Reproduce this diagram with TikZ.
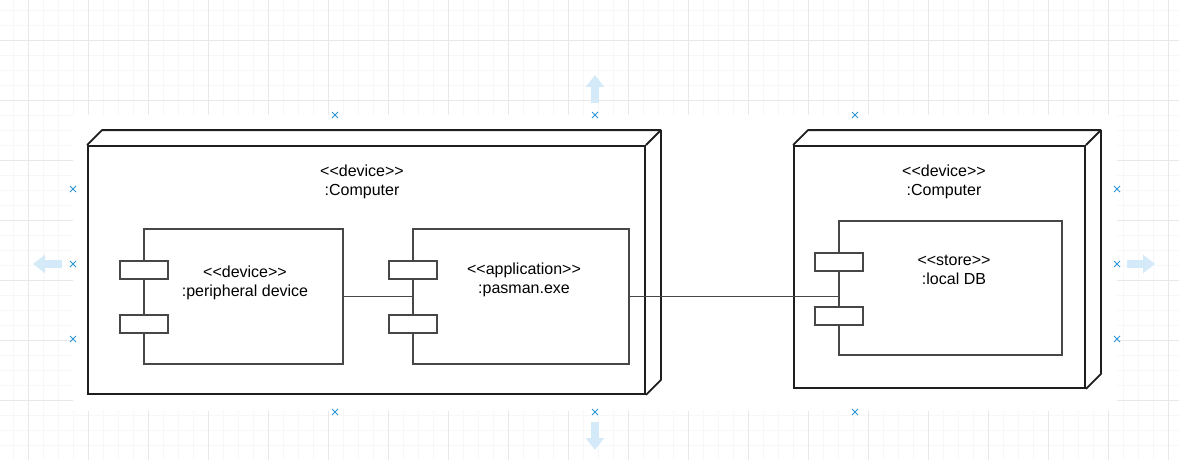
\documentclass[tikz,border=0pt]{standalone}
\usepackage{fontspec}
\setmainfont{Liberation Sans}[Ligatures=TeXOff]
\usetikzlibrary{shapes.misc,arrows.meta}
\definecolor{gridmajor}{RGB}{232,232,232}
\definecolor{gridminor}{RGB}{247,247,247}
\definecolor{handleblue}{RGB}{41,150,215}
\definecolor{hintblue}{RGB}{212,234,248}
\definecolor{edgegray}{RGB}{30,30,30}
\tikzset{
  devbox/.style={rectangle, draw=edgegray, line width=1.8pt, fill=white, inner sep=0pt},
  devside/.style={draw=edgegray, line width=1.8pt, line join=round},
  compbox/.style={rectangle, draw=black!72, line width=1.7pt, fill=white, inner sep=0pt},
  portbox/.style={rectangle, draw=black!72, line width=1.7pt, fill=white, inner sep=0pt,
    minimum width=48pt, minimum height=18pt},
  wire/.style={draw=black!72, line width=1.9pt},
  stereo/.style={align=center, font=\fontsize{16}{19.5}\selectfont, inner sep=0pt},
  handle/.style={cross out, draw=handleblue, line width=1pt, minimum size=5pt, inner sep=0pt},
  hint/.style={draw=hintblue, line width=8pt, -{Triangle[width=18pt,length=12pt]}}
}
\begin{document}
\begin{tikzpicture}[x=1pt,y=-1pt]
\useasboundingbox (0,0) rectangle (1179,460);
% editor grid
\foreach \gx in {13,28,...,1178} \draw[gridminor] (\gx,0) -- (\gx,460);
\foreach \gy in {10,25,...,460} \draw[gridminor] (0,\gy) -- (1179,\gy);
\foreach \gx in {28,88,...,1168} \draw[gridmajor] (\gx,0) -- (\gx,460);
\foreach \gy in {40,100,...,400} \draw[gridmajor] (0,\gy) -- (1179,\gy);
\fill[white] (73,115) rectangle (1117,411);

% left computer
\node[devbox, minimum width=557pt, minimum height=248pt] (pc1) at (366.5,270){};
\draw[devside] (pc1.north west) -- ++(15,-15) -| ([shift={(15,-15)}]pc1.south east) -- (pc1.south east);
\draw[devside] (pc1.north east) -- ++(15,-15);
\node[stereo] (pc1-label) at (362,182){<<device>>\\:Computer};

\node[compbox, minimum width=199pt, minimum height=135pt] (peri) at (243.5,296.5){};
\node[portbox] (peri-p1) at (144,270){};
\node[portbox] (peri-p2) at (144,324){};
\node[stereo] (peri-label) at (245,283){<<device>>\\:peripheral device};

\node[compbox, minimum width=216pt, minimum height=135pt] (pasman) at (521,296.5){};
\node[portbox] (pasman-p1) at (413,270){};
\node[portbox] (pasman-p2) at (413,324){};
\node[stereo] (pasman-label) at (524,280){<<application>>\\:pasman.exe};

% right computer
\node[devbox, minimum width=291pt, minimum height=242pt] (pc2) at (939.5,267){};
\draw[devside] (pc2.north west) -- ++(15,-15) -| ([shift={(15,-15)}]pc2.south east) -- (pc2.south east);
\draw[devside] (pc2.north east) -- ++(15,-15);
\node[stereo] (pc2-label) at (944,182){<<device>>\\:Computer};

\node[compbox, minimum width=223pt, minimum height=134pt] (localdb) at (950.5,288){};
\node[portbox] (localdb-p1) at (839,262){};
\node[portbox] (localdb-p2) at (839,316){};
\node[stereo] (localdb-label) at (954,270){<<store>>\\:local DB};

\draw[wire] (peri.east) -- (pasman.west);
\draw[wire] (pasman.east) -- (pasman.east -| localdb.west);

% selection handles
\foreach \hx in {335,595,855}{
  \node[handle] (htop\hx) at (\hx,115){};
  \node[handle] (hbot\hx) at (\hx,412){};
}
\foreach \hy in {189,264,339}{
  \node[handle] (hleft\hy) at (73,\hy){};
  \node[handle] (hright\hy) at (1117,\hy){};
}
\draw[hint] (595,103) -- (595,75);
\draw[hint] (595,422) -- (595,450);
\draw[hint] (62,264) -- (33,264);
\draw[hint] (1127,264) -- (1155,264);
\end{tikzpicture}
\end{document}
